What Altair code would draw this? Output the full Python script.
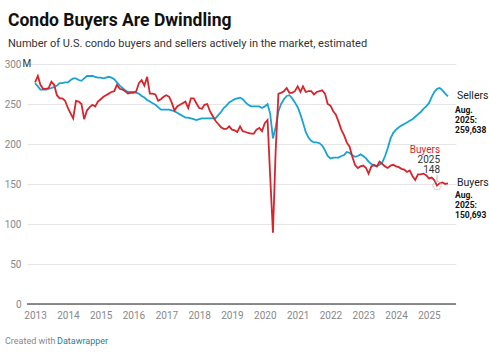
import altair as alt
import pandas as pd

# ---- data (thousands of people, monthly Jan 2013 - Aug 2025) ----
start_month = "2013-01-01"
buyers = [
    277, 285, 274, 269, 269, 270, 278, 274, 261, 257, 257, 254,
    245, 238, 232, 254, 253, 250, 231, 242, 246, 249, 247, 253,
    256, 259, 261, 263, 265, 266, 274, 269, 268, 266, 263, 264,
    264, 266, 276, 280, 273, 284, 263, 263, 262, 254, 256, 259,
    261, 259, 252, 242, 247, 249, 251, 253, 245, 257, 257, 251,
    245, 244, 249, 250, 241, 235, 229, 225, 221, 219, 219, 222,
    218, 217, 215, 222, 216, 215, 214, 213, 213, 218, 220, 216,
    226, 230, 160, 89, 191, 263, 264, 266, 270, 264, 264, 266,
    272, 265, 272, 265, 266, 266, 262, 265, 266, 267, 263, 250,
    248, 241, 237, 228, 218, 211, 202, 197, 184, 174, 170, 172,
    173, 170, 163, 172, 174, 172, 178, 175, 172, 170, 173, 174,
    172, 171, 169, 168, 165, 167, 160, 155, 162, 162, 163, 161,
    157, 158, 155, 148, 151, 152, 150, 150.7,
]
sellers = [
    276, 272, 268, 268, 268, 269, 270, 271, 273, 276, 276, 277,
    277, 280, 282, 282, 280, 279, 282, 285, 285, 285, 284, 283,
    283, 282, 283, 284, 283, 281, 277, 273, 270, 267, 265, 265,
    265, 264, 263, 260, 258, 255, 253, 251, 249, 246, 243, 243,
    243, 243, 242, 241, 239, 237, 235, 233, 233, 232, 231, 230,
    231, 232, 232, 232, 232, 232, 232, 236, 240, 245, 248, 252,
    254, 256, 257, 258, 256, 252, 249, 247, 247, 247, 247, 245,
    247, 250, 238, 207, 221, 241, 250, 256, 260, 261, 257, 252,
    246, 237, 227, 215, 208, 204, 202, 202, 201, 198, 192, 185,
    182, 183, 183, 183, 185, 186, 190, 189, 186, 184, 185, 187,
    185, 182, 178, 175, 173, 172, 174, 177, 185, 195, 207, 214,
    218, 221, 223, 225, 227, 229, 231, 234, 237, 240, 244, 247,
    251, 259, 265, 269, 270, 267, 263, 259.6,
]
y_ticks = [0, 50, 100, 150, 200, 250, 300]
title_text = "Condo Buyers Are Dwindling"
subtitle_text = "Number of U.S. condo buyers and sellers actively in the market, estimated"
sellers_detail = "Aug.\n2025:\n259,638"
buyers_detail = "Aug.\n2025:\n150,693"
highlight_index = 147   # April 2025 point annotated
highlight_year = "2025"

RED = "#d6252d"
BLUE = "#18a3d3"
FONT = "Roboto"

dates = pd.date_range(start_month, periods=len(buyers), freq="MS").strftime("%Y-%m-%d")
df = pd.DataFrame({"date": dates, "Buyers": buyers, "Sellers": sellers})
last = df.tail(1)
hl = pd.DataFrame({"date": [dates[highlight_index]], "v": [buyers[highlight_index]]})
dummy = pd.DataFrame({"a": [0]})

xscale = alt.Scale(type="utc",
                   domain=[alt.DateTime(year=2012, month=10, date=3, utc=True),
                           alt.DateTime(year=2025, month=10, date=29, utc=True)])
yscale = alt.Scale(domain=[0, 300], nice=False, zero=True)

xaxis = alt.Axis(format="%Y", formatType="utc", tickCount={"interval": "year", "step": 1},
                 grid=False, domain=False, ticks=False, labelFont=FONT, labelFontSize=10,
                 labelColor="#888888", labelPadding=6, labelFlush=False, title=None)
yaxis = alt.Axis(values=y_ticks, grid=True, gridColor="#e6e6e6", gridWidth=1, domain=False,
                 ticks=False, labelFont=FONT, labelFontSize=10, labelColor="#888888",
                 labelPadding=6, title=None)


def X():
    return alt.X("date:T", scale=xscale, axis=xaxis)


def Y(field):
    return alt.Y(field, scale=yscale, axis=yaxis)


sellers_line = alt.Chart(df).mark_line(color=BLUE, strokeWidth=1.8).encode(
    x=X(), y=Y("Sellers:Q"))
buyers_line = alt.Chart(df).mark_line(color=RED, strokeWidth=1.8).encode(
    x=X(), y=Y("Buyers:Q"))
baseline = alt.Chart(dummy).mark_rule(color="#666666", strokeWidth=1.5).encode(
    y=alt.datum(0, scale=yscale, axis=yaxis), x=alt.value(0), x2=alt.value(429))

unit_m = alt.Chart(dummy).mark_text(align="left", baseline="middle", font=FONT, fontSize=10,
                                    color="#333333").encode(
    x=alt.value(-4.5), y=alt.datum(300, scale=yscale, axis=yaxis), text=alt.value("M"))

sel_lab = alt.Chart(last).mark_text(align="left", baseline="middle", font=FONT, fontSize=10.5,
                                    color="#222222").encode(
    x=alt.value(430), y=Y("Sellers:Q"), text=alt.value("Sellers"))
sel_det = alt.Chart(last).mark_text(align="left", baseline="top", font=FONT, fontSize=8.5,
                                    fontWeight="bold", color="#111111", lineBreak="\n",
                                    lineHeight=10, dx=-2, dy=10).encode(
    x=alt.value(430), y=Y("Sellers:Q"), text=alt.value(sellers_detail))
buy_lab = alt.Chart(last).mark_text(align="left", baseline="middle", font=FONT, fontSize=10.5,
                                    color="#222222").encode(
    x=alt.value(430), y=Y("Buyers:Q"), text=alt.value("Buyers"))
buy_det = alt.Chart(last).mark_text(align="left", baseline="top", font=FONT, fontSize=8.5,
                                    fontWeight="bold", color="#111111", lineBreak="\n",
                                    lineHeight=10, dx=-2, dy=8).encode(
    x=alt.value(430), y=Y("Buyers:Q"), text=alt.value(buyers_detail))

hl_circle = alt.Chart(hl).mark_point(shape="circle", size=70, filled=False, color="#b5b5b5",
                                     strokeWidth=1).encode(
    x=X(), y=Y("v:Q"))
hl_rule = alt.Chart(hl).mark_rule(color="#aaaaaa", strokeWidth=0.8).encode(
    x=X(), y=alt.value(111), y2=alt.value(117))
hl_red = alt.Chart(hl).mark_text(align="right", baseline="middle", font=FONT, fontSize=10,
                                 color=RED, dx=3, dy=-36).encode(
    x=X(), y=Y("v:Q"), text=alt.value("Buyers"))
hl_year = alt.Chart(hl).mark_text(align="right", baseline="middle", font=FONT, fontSize=10,
                                  color="#333333", dx=3, dy=-26).encode(
    x=X(), y=Y("v:Q"), text=alt.value(highlight_year))
hl_val = alt.Chart(hl).mark_text(align="right", baseline="middle", font=FONT, fontSize=10,
                                 color="#333333", dx=3, dy=-15.5).encode(
    x=X(), y=Y("v:Q"), text=alt.Text("v:Q", format=".0f"))

title = alt.Chart(dummy).mark_text(align="left", baseline="alphabetic", font=FONT, fontSize=17.5,
                                   fontWeight="bold", color="#111111").encode(
    x=alt.value(-19), y=alt.value(-38), text=alt.value(title_text))
subtitle = alt.Chart(dummy).mark_text(align="left", baseline="alphabetic", font=FONT, fontSize=11,
                                      color="#333333").encode(
    x=alt.value(-19), y=alt.value(-17), text=alt.value(subtitle_text))
foot1 = alt.Chart(dummy).mark_text(align="left", baseline="alphabetic", font=FONT, fontSize=9,
                                   color="#888888").encode(
    x=alt.value(-22), y=alt.value(280), text=alt.value("Created with"))
foot2 = alt.Chart(dummy).mark_text(align="left", baseline="alphabetic", font=FONT, fontSize=9,
                                   color="#1d81a2").encode(
    x=alt.value(30), y=alt.value(280), text=alt.value("Datawrapper"))

chart = alt.layer(
    sellers_line, baseline, buyers_line, unit_m,
    sel_lab, sel_det, buy_lab, buy_det,
    hl_circle, hl_rule, hl_red, hl_year, hl_val,
    title, subtitle, foot1, foot2,
).properties(
    width=429, height=240,
    autosize=alt.AutoSizeParams(type="none"),
    padding={"left": 27, "top": 64, "right": 33, "bottom": 49},
    background="white",
).configure_view(stroke=None)

chart.save("out.html", embed_options={"renderer": "svg", "actions": False})
